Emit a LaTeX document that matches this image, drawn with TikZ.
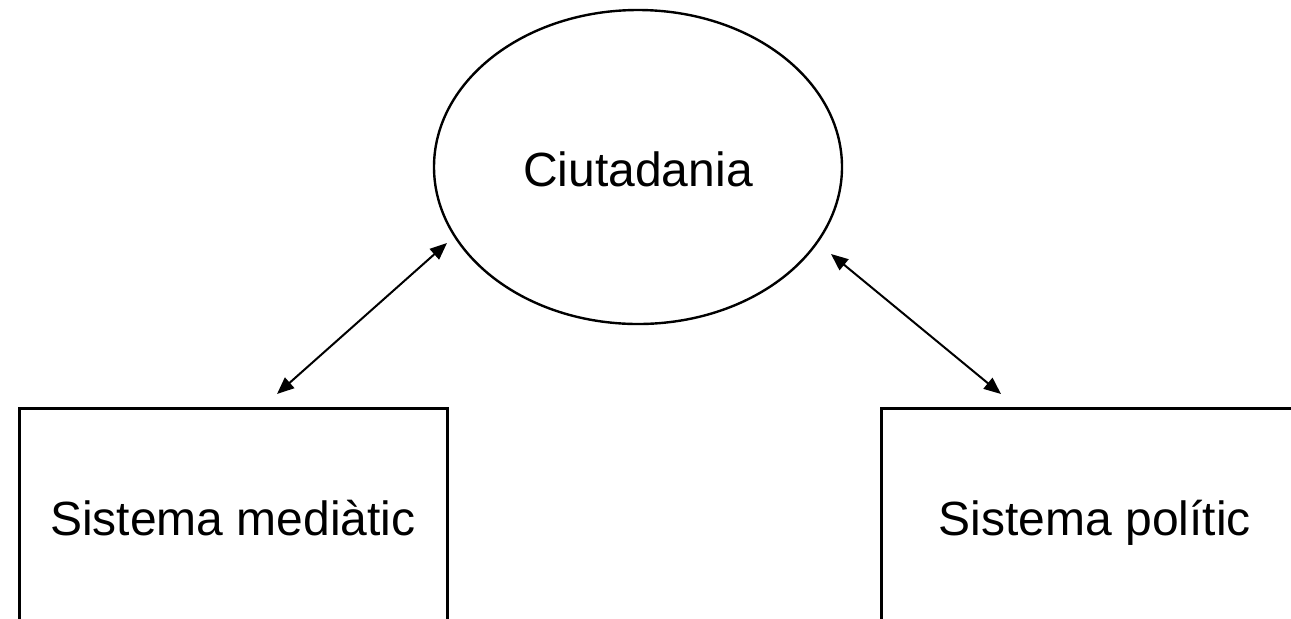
\documentclass[tikz,border=0pt]{standalone}
\usepackage{fontspec}
\setmainfont{Liberation Sans}
\usetikzlibrary{arrows.meta,shapes.geometric}
\begin{document}
\begin{tikzpicture}[x=0.5pt, y=-0.5pt,
    font=\fontsize{24}{28}\selectfont,
    actor/.style={draw, line width=1.2pt, ellipse, inner sep=0pt,
        minimum width=204pt, minimum height=157pt, text height=19pt, text depth=0pt},
    systembox/.style={draw, line width=1.5pt, rectangle, inner sep=0pt,
        minimum width=214pt, minimum height=110pt, text height=16.5pt, text depth=0pt},
    link/.style={line width=1pt, {Triangle[length=8.5pt,width=7pt]}-{Triangle[length=8.5pt,width=7pt]}}]
        \clip (0,0) rectangle (1291,618);
        \node[actor] (ciutadania) at (638,167) {Ciutadania};
        \node[systembox] (mediatic) at (233,518.5) {Sistema mediàtic};
        \node[systembox] (politic) at (1095,518.5) {Sistema polític};
        \coordinate (ci-left) at (447,243);
        \coordinate (med-top) at (277,394);
        \coordinate (ci-right) at (831,254);
        \coordinate (pol-top) at (1001,394);
        \draw [link] (ci-left) -- (med-top);
        \draw [link] (ci-right) -- (pol-top);
    \end{tikzpicture}
\end{document}
